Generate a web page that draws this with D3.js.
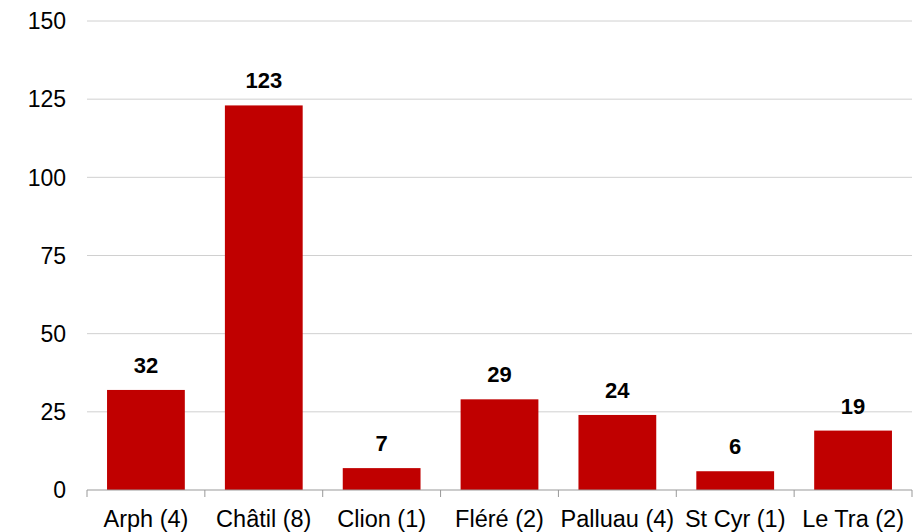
<!DOCTYPE html>
<html>
<head>
<meta charset="utf-8">
<script src="https://cdn.jsdelivr.net/npm/d3@7"></script>
<style>
  body { margin: 0; background: #fff; }
  text { font-family: "Liberation Sans", Arial, sans-serif; }
</style>
</head>
<body>
<div id="chart"></div>
<script>
// chart data
var categories = ["Arph (4)", "Châtil (8)", "Clion (1)", "Fléré (2)", "Palluau (4)", "St Cyr (1)", "Le Tra (2)"],
    values = [32, 123, 7, 29, 24, 6, 19],
    yticks = [0, 25, 50, 75, 100, 125, 150];

var w = 915,
    h = 532,
    margin = {top: 21, right: 3, bottom: 42, left: 87};

var svg = d3.select("#chart").append("svg")
    .attr("width", w)
    .attr("height", h);

// scales
var x = d3.scaleBand()
    .domain(categories)
    .range([margin.left, w - margin.right])
    .paddingInner(0.34)
    .paddingOuter(0.17);

var y = d3.scaleLinear()
    .domain([0, 150])
    .range([h - margin.bottom, margin.top]);

// gridlines
svg.append("g")
    .selectAll("line")
    .data(yticks.slice(1))
    .enter().append("line")
    .attr("x1", margin.left)
    .attr("x2", w - margin.right)
    .attr("y1", function(d) { return y(d); })
    .attr("y2", function(d) { return y(d); })
    .attr("stroke", "#d0d0d0")
    .attr("stroke-width", 1);

// y tick labels
svg.append("g")
    .selectAll("text")
    .data(yticks)
    .enter().append("text")
    .attr("x", 66)
    .attr("y", function(d) { return y(d); })
    .attr("dy", "0.36em")
    .attr("text-anchor", "end")
    .style("font-size", "23px")
    .attr("fill", "#000")
    .text(function(d) { return d; });

// bars
svg.append("g")
    .selectAll("rect")
    .data(values)
    .enter().append("rect")
    .attr("x", function(d, i) { return x(categories[i]); })
    .attr("y", function(d) { return y(d); })
    .attr("width", x.bandwidth())
    .attr("height", function(d) { return y(0) - y(d); })
    .attr("fill", "#c00000");

// value labels
svg.append("g")
    .selectAll("text")
    .data(values)
    .enter().append("text")
    .attr("x", function(d, i) { return x(categories[i]) + x.bandwidth() / 2; })
    .attr("y", function(d) { return y(d) - 17; })
    .attr("text-anchor", "middle")
    .style("font-size", "22px")
    .style("font-weight", "bold")
    .text(function(d) { return d; });

// x axis
var xAxis = svg.append("g")
    .attr("transform", "translate(0," + y(0) + ")");

xAxis.append("line")
    .attr("x1", margin.left)
    .attr("x2", w - margin.right)
    .attr("stroke", "#999")
    .attr("stroke-width", 1);

var step = x.step(),
    edges = d3.range(categories.length + 1).map(function(i) { return margin.left + i * step; });

xAxis.selectAll(".tick")
    .data(edges)
    .enter().append("line")
    .attr("x1", function(d) { return d; })
    .attr("x2", function(d) { return d; })
    .attr("y1", 0)
    .attr("y2", 7)
    .attr("stroke", "#999");

xAxis.selectAll(".cat")
    .data(categories)
    .enter().append("text")
    .attr("x", function(d) { return x(d) + x.bandwidth() / 2; })
    .attr("y", 37)
    .attr("text-anchor", "middle")
    .style("font-size", "23.5px")
    .text(function(d) { return d; });
</script>
</body>
</html>
